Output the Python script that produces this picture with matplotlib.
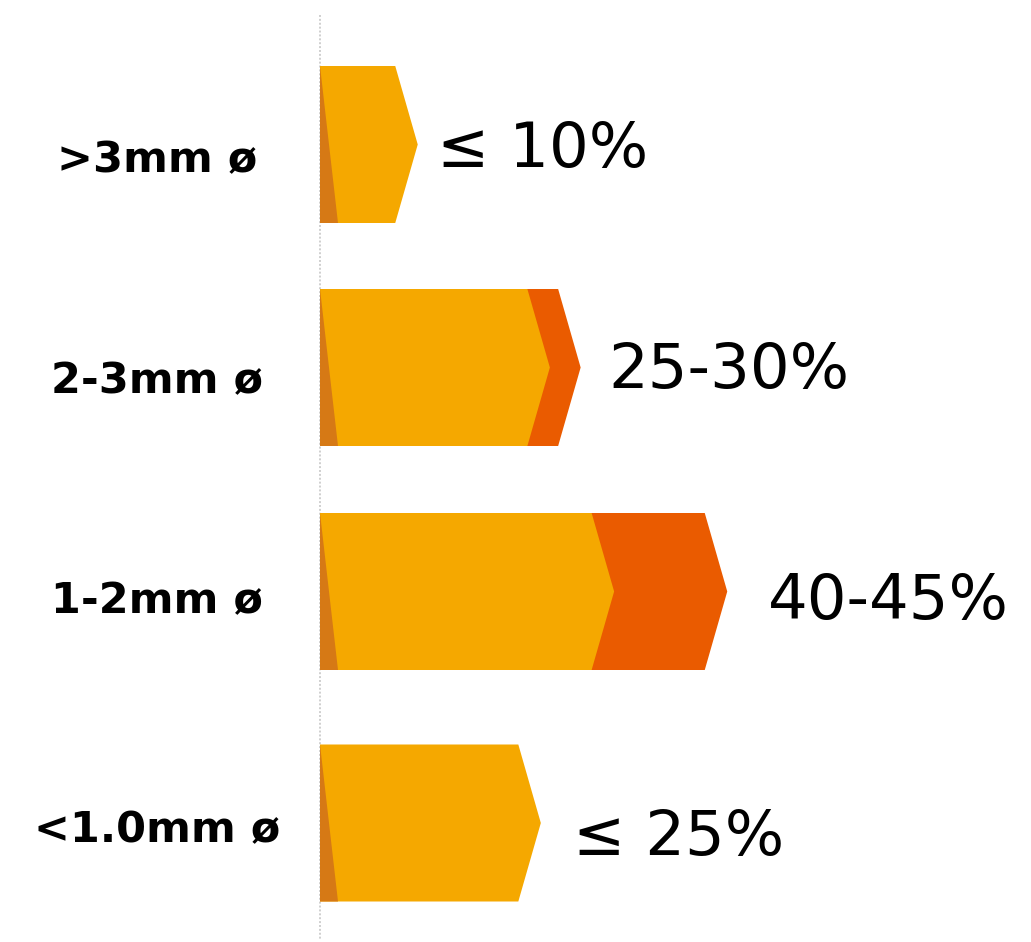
import matplotlib
matplotlib.use("Agg")
import matplotlib.pyplot as plt
from matplotlib.patches import Polygon

# ---- data ----
categories = ['>3mm ø', '2-3mm ø', '1-2mm ø', '<1.0mm ø']
value_labels = ['≤ 10%', '25-30%', '40-45%', '≤ 25%']
low_end = [10.8, 25.4, 32.5, 24.4]      # tip of the yellow arrow (%)
high_end = [None, 28.8, 45.0, None]     # tip of the orange arrow (%)

# ---- style / layout ----
PX = 9.05                      # pixels per percent
W, H = 1031, 942
X0 = 320                       # pixel position of the 0 line
YELLOW = '#F5A800'
ORANGE = '#EA5B00'
DARK = '#D67915'
TIP = 22.5 / PX                # arrow tip depth in %
BAR_H = 157                    # bar height in px
SHADE = 18 / PX                # dark wedge width at bottom
row_center = [144.5, 367.5, 591.5, 823]
label_baseline = [172, 393, 613, 842]
value_baseline = [167, 388, 619, 855]
value_left_px = [437, 608, 768, 573]
label_center_px = 157

fig = plt.figure(figsize=(W / 100, H / 100), dpi=100)
ax = fig.add_axes([0, 0, 1, 1])
ax.set_xlim(-X0 / PX, (W - X0) / PX)
ax.set_ylim(H, 0)
ax.axis('off')


def px2x(p):
    return (p - X0) / PX


def arrow(end, yc, color, z):
    top, bot = yc - BAR_H / 2, yc + BAR_H / 2
    pts = [(0, top), (end - TIP, top), (end, yc), (end - TIP, bot), (0, bot)]
    ax.add_patch(Polygon(pts, closed=True, facecolor=color, edgecolor='none', zorder=z))


# dotted baseline
ax.plot([0, 0], [15, 940], color='#cfcfcf', lw=1.4, ls=(0, (1, 1)), zorder=1)

for i, cat in enumerate(categories):
    yc = row_center[i]
    if high_end[i] is not None:
        arrow(high_end[i], yc, ORANGE, 2)
    arrow(low_end[i], yc, YELLOW, 3)
    top, bot = yc - BAR_H / 2, yc + BAR_H / 2
    ax.add_patch(Polygon([(0, top), (SHADE, bot), (0, bot)], closed=True,
                         facecolor=DARK, edgecolor='none', zorder=4))
    ax.text(px2x(label_center_px), label_baseline[i], cat, ha='center', va='baseline',
            fontsize=31, fontweight='bold', family=['DejaVu Sans'], color='black')
    ax.text(px2x(value_left_px[i]), value_baseline[i], value_labels[i], ha='left',
            va='baseline', fontsize=45, family=['DejaVu Sans'], color='black')

fig.savefig('out.png', dpi=100, facecolor='white')
